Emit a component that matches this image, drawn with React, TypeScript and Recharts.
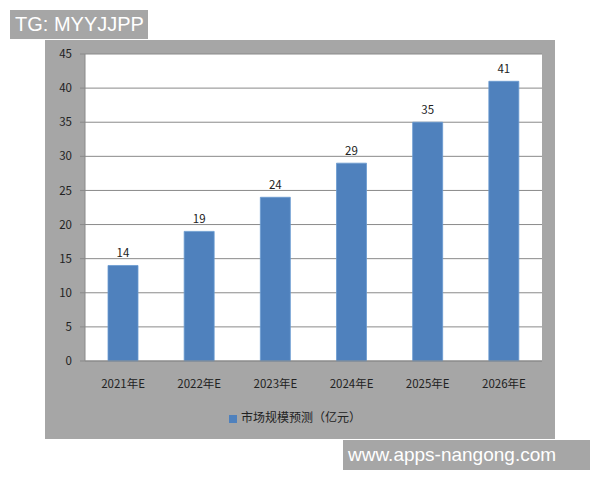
import React from 'react'
import { BarChart, Bar, XAxis, YAxis, CartesianGrid, Legend, LabelList } from 'recharts'

// 市场规模预测（亿元）
const years = ['2021年E', '2022年E', '2023年E', '2024年E', '2025年E', '2026年E']
const marketSize = [14, 19, 24, 29, 35, 41]
const yTicks = [0, 5, 10, 15, 20, 25, 30, 35, 40, 45]
const seriesName = '市场规模预测（亿元）'

const data = years.map((year, i) => ({ year, value: marketSize[i] }))

const FONT = '"Noto Sans CJK SC", "DejaVu Sans", sans-serif'
const GRAY = '#a6a6a6'

export default function App() {
  return (
    <div style={{ position: 'absolute', left: 0, top: 0, width: 600, height: 480, background: '#fff', fontFamily: FONT }}>
      <div
        style={{
          position: 'absolute', left: 10, top: 10, width: 138, height: 29, background: GRAY,
          color: '#fff', fontFamily: 'Arial, "Liberation Sans", sans-serif', fontSize: 20, lineHeight: '29px',
          paddingLeft: 5, boxSizing: 'border-box',
        }}
      >
        TG: MYYJJPP
      </div>

      <div style={{ position: 'absolute', left: 45, top: 40, width: 510, height: 399, background: GRAY }}>
        <BarChart width={510} height={399} data={data} margin={{ top: 14, right: 13, bottom: 48, left: 0 }}>
          <CartesianGrid vertical={false} stroke="#8a8a8a" fill="#fff" />
          <XAxis
            dataKey="year"
            height={30}
            stroke="#8a8a8a"
            tickLine={false}
            tickMargin={13}
            tick={{ fill: '#222', fontSize: 11.5, fontFamily: FONT }}
          />
          <YAxis
            domain={[0, 45]}
            ticks={yTicks}
            width={40}
            stroke="#8a8a8a"
            tickSize={5}
            tickMargin={8}
            tick={{ fill: '#222', fontSize: 11.5, fontFamily: FONT }}
          />
          <Legend
            layout="horizontal"
            verticalAlign="middle"
            align="center"
            iconType="square"
            iconSize={8}
            wrapperStyle={{ top: 368, left: 0, width: 510, fontSize: 12, fontFamily: FONT }}
            formatter={(v) => <span style={{ color: '#222' }}>{v}</span>}
          />
          <Bar dataKey="value" name={seriesName} barSize={30} fill="#4f81bd" stroke="#6a9ad0" strokeWidth={0.8} isAnimationActive={false}>
            <LabelList dataKey="value" position="top" offset={8} fill="#222" fontSize={11.5} fontFamily={FONT} />
          </Bar>
        </BarChart>
      </div>

      <div
        style={{
          position: 'absolute', left: 343, top: 440, width: 247, height: 30, background: GRAY,
          color: '#fff', fontFamily: 'Arial, "Liberation Sans", sans-serif', fontSize: 19, lineHeight: '30px',
          paddingLeft: 5, boxSizing: 'border-box',
        }}
      >
        www.apps-nangong.com
      </div>
    </div>
  )
}
